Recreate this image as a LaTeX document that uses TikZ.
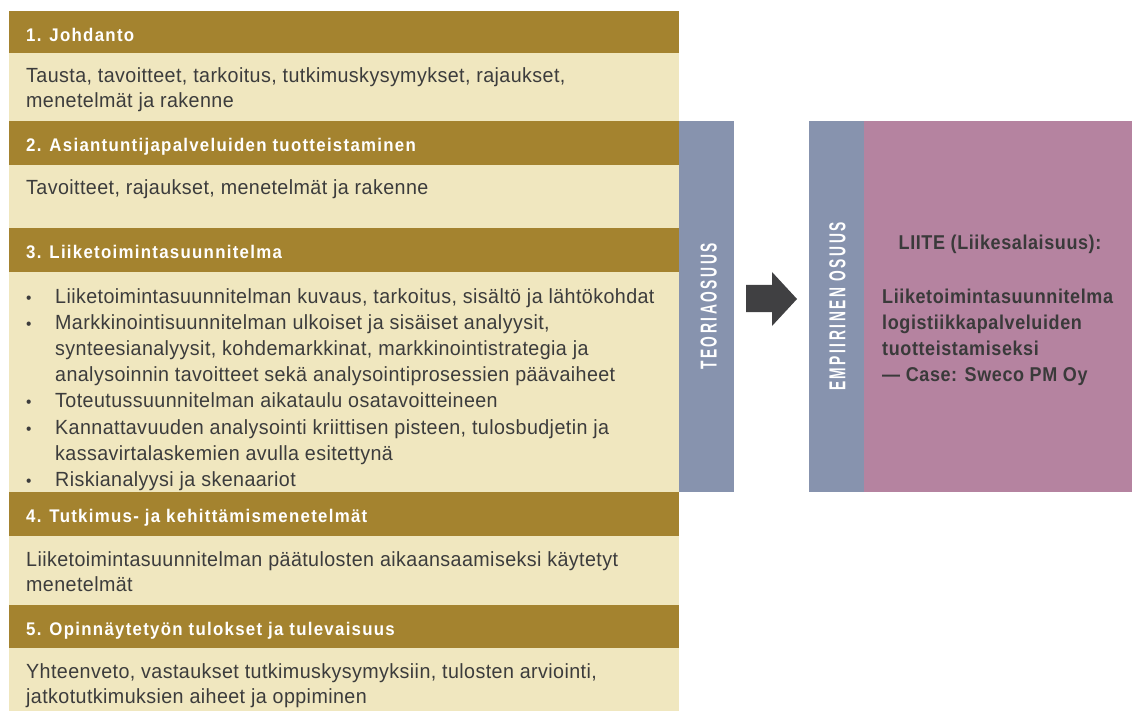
\documentclass[tikz,border=0pt]{standalone}
\usepackage{fontspec}
\setmainfont{Liberation Sans}
\newfontfamily\bodyf[FakeStretch=0.96,LetterSpace=2]{Liberation Sans}
\newfontfamily\pinkf[FakeStretch=0.9,LetterSpace=3]{Liberation Sans}
\newfontfamily\hdrf[FakeStretch=0.92,LetterSpace=7]{Liberation Sans}
\newfontfamily\vertf[FakeStretch=0.6,LetterSpace=11]{Liberation Sans}
\definecolor{gold}{HTML}{A4832F}
\definecolor{beige}{HTML}{F0E7BF}
\definecolor{bluegrey}{HTML}{8793AE}
\definecolor{pinkc}{HTML}{B583A0}
\definecolor{arrowc}{HTML}{404042}
\definecolor{txt}{HTML}{3C3C3C}
\definecolor{ptxt}{HTML}{3A3A3A}
\begin{document}
\begin{tikzpicture}[x=1pt,y=-1pt,
  hdrbox/.style={fill=gold,draw=none,inner sep=0,outer sep=0,anchor=north west,minimum width=670pt},
  cntbox/.style={fill=beige,draw=none,inner sep=0,outer sep=0,anchor=north west,minimum width=670pt},
  barbox/.style={fill=bluegrey,draw=none,inner sep=0,outer sep=0,anchor=north west,minimum height=371pt},
  htext/.style={anchor=base west,inner sep=0,text=white,font=\hdrf\bfseries\fontsize{18.3}{20}\selectfont},
  btext/.style={anchor=base west,inner sep=0,text=txt,font=\bodyf\fontsize{20.5}{26}\selectfont},
  vtext/.style={inner sep=0,text=white,rotate=90,font=\vertf\bfseries\fontsize{23}{25}\selectfont},
  ptext/.style={anchor=base west,inner sep=0,text=ptxt,font=\pinkf\bfseries\fontsize{20}{26}\selectfont}]
\useasboundingbox (0,0) rectangle (1132,711);
% left column bands
\node[hdrbox,minimum height=42pt] (h1) at (9,11) {};
\node[cntbox,minimum height=68pt] (c1) at (9,53) {};
\node[hdrbox,minimum height=44pt] (h2) at (9,121) {};
\node[cntbox,minimum height=63pt] (c2) at (9,165) {};
\node[hdrbox,minimum height=44pt] (h3) at (9,228) {};
\node[cntbox,minimum height=220pt] (c3) at (9,272) {};
\node[hdrbox,minimum height=44pt] (h4) at (9,492) {};
\node[cntbox,minimum height=69pt] (c4) at (9,536) {};
\node[hdrbox,minimum height=43pt] (h5) at (9,605) {};
\node[cntbox,minimum height=63pt] (c5) at (9,648) {};
% right side bars
\node[barbox,minimum width=55pt] (teoria) at (679,121) {};
\node[barbox,minimum width=55pt] (empir) at (809,121) {};
\node[fill=pinkc,draw=none,inner sep=0,outer sep=0,anchor=north west,minimum height=371pt,minimum width=268pt] (liite) at (864,121) {};
% headers
\node[htext] (t1) at (26,41.5) {1. Johdanto};
\node[htext] (t2) at (26,151.5) {2. Asiantuntijapalveluiden tuotteistaminen};
\node[htext] (t3) at (26,258.5) {3. Liiketoimintasuunnitelma};
\node[htext] (t4) at (26,522.5) {4. Tutkimus- ja kehittämismenetelmät};
\node[htext] (t5) at (26,635.5) {5. Opinnäytetyön tulokset ja tulevaisuus};
% contents
\node[btext] (b1a) at (26,83) {Tausta, tavoitteet, tarkoitus, tutkimuskysymykset, rajaukset,};
\node[btext] (b1b) at (26,108) {menetelmät ja rakenne};
\node[btext] (b2a) at (26,195) {Tavoitteet, rajaukset, menetelmät ja rakenne};
\foreach \yy/\nm in {303/d1,329.2/d2,407.8/d3,434/d4,486.4/d5}
  \node[btext,font=\bodyf\fontsize{16}{26}\selectfont] (\nm) at (26,\yy) {\textbullet};
\node[btext] (b3a) at (55,303) {Liiketoimintasuunnitelman kuvaus, tarkoitus, sisältö ja lähtökohdat};
\node[btext] (b3b) at (55,329.2) {Markkinointisuunnitelman ulkoiset ja sisäiset analyysit,};
\node[btext] (b3c) at (55,355.4) {synteesianalyysit, kohdemarkkinat, markkinointistrategia ja};
\node[btext] (b3d) at (55,381.6) {analysoinnin tavoitteet sekä analysointiprosessien päävaiheet};
\node[btext] (b3e) at (55,407.8) {Toteutussuunnitelman aikataulu osatavoitteineen};
\node[btext] (b3f) at (55,434) {Kannattavuuden analysointi kriittisen pisteen, tulosbudjetin ja};
\node[btext] (b3g) at (55,460.2) {kassavirtalaskemien avulla esitettynä};
\node[btext] (b3h) at (55,486.4) {Riskianalyysi ja skenaariot};
\node[btext] (b4a) at (26,566) {Liiketoimintasuunnitelman päätulosten aikaansaamiseksi käytetyt};
\node[btext] (b4b) at (26,591) {menetelmät};
\node[btext] (b5a) at (26,678) {Yhteenveto, vastaukset tutkimuskysymyksiin, tulosten arviointi,};
\node[btext] (b5b) at (26,703) {jatkotutkimuksien aiheet ja oppiminen};
% vertical labels
\node[vtext] (vt) at (708.7,306.5) {TEORIAOSUUS};
\node[vtext] (ve) at (837.5,306.5) {EMPIIRINEN OSUUS};
% arrow
\fill[arrowc] (746,285) -- (772,285) -- (772,272) -- (797,299) -- (772,326) -- (772,312) -- (746,312) -- cycle;
% pink text
\node[ptext,anchor=base] (p0) at (1000,250) {LIITE (Liikesalaisuus):};
\node[ptext] (p1) at (882,303) {Liiketoimintasuunnitelma};
\node[ptext] (p2) at (882,329) {logistiikkapalveluiden};
\node[ptext] (p3) at (882,355) {tuotteistamiseksi};
\node[ptext] (p4) at (882,381) {— Case: Sweco PM Oy};
\end{tikzpicture}
\end{document}
